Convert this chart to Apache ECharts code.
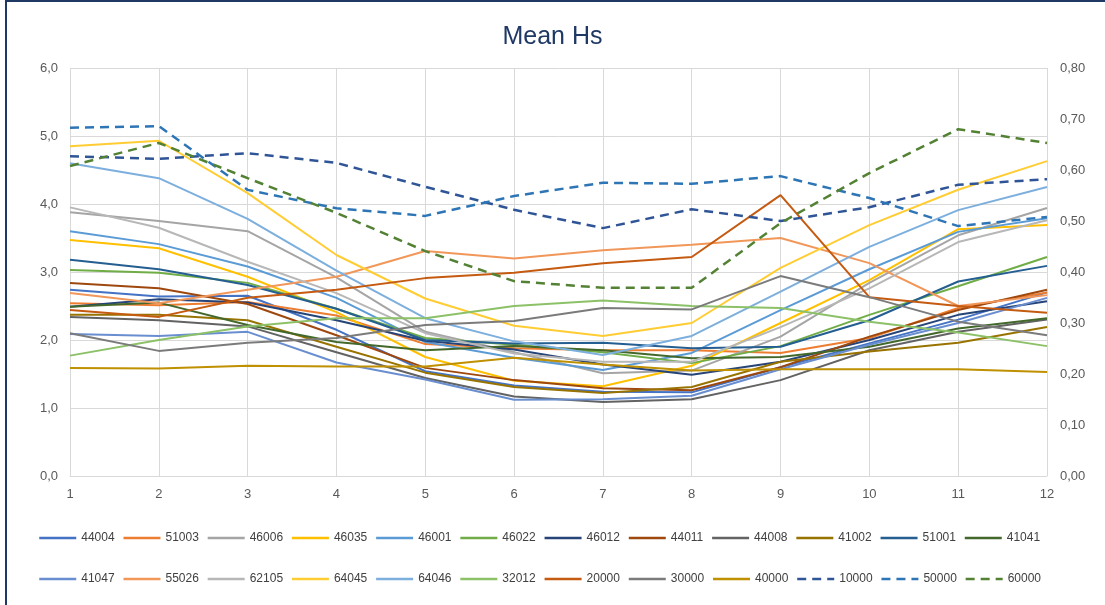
<!DOCTYPE html>
<html>
<head>
<meta charset="utf-8">
<title>Mean Hs</title>
<script src="https://cdn.jsdelivr.net/npm/echarts@6/dist/echarts.min.js"></script>
<style>
  html, body { margin: 0; padding: 0; background: #ffffff; }
  #chart { width: 1105px; height: 605px; }
</style>
</head>
<body>
<div id="chart"></div>
<script>
// Months on the category axis
const months = ['1', '2', '3', '4', '5', '6', '7', '8', '9', '10', '11', '12'];

// Monthly mean Hs per buoy (left axis, m)
const hs44004 = [2.74, 2.64, 2.65, 2.15, 1.54, 1.33, 1.24, 1.23, 1.60, 1.95, 2.30, 2.70];
const hs51003 = [2.54, 2.51, 2.56, 2.36, 1.94, 1.88, 1.85, 1.85, 1.81, 2.03, 2.47, 2.70];
const hs46006 = [3.88, 3.75, 3.60, 2.92, 2.12, 1.82, 1.51, 1.55, 2.05, 2.84, 3.54, 3.94];
const hs46035 = [3.47, 3.35, 2.93, 2.41, 1.75, 1.40, 1.32, 1.62, 2.25, 2.88, 3.63, 3.69];
const hs46001 = [3.60, 3.41, 3.08, 2.62, 1.97, 1.74, 1.56, 1.81, 2.44, 3.04, 3.59, 3.79];
const hs46022 = [3.03, 2.99, 2.84, 2.46, 2.03, 1.93, 1.82, 1.66, 1.91, 2.37, 2.79, 3.22];
const hs46012 = [2.49, 2.60, 2.55, 2.29, 1.99, 1.86, 1.64, 1.49, 1.68, 2.00, 2.37, 2.57];
const hs44011 = [2.84, 2.76, 2.53, 2.07, 1.59, 1.41, 1.29, 1.26, 1.60, 2.05, 2.44, 2.74];
const hs44008 = [2.34, 2.29, 2.20, 1.82, 1.44, 1.17, 1.09, 1.13, 1.41, 1.85, 2.12, 2.30];
const hs41002 = [2.37, 2.37, 2.29, 1.90, 1.52, 1.31, 1.22, 1.31, 1.68, 1.83, 1.96, 2.19];
const hs51001 = [3.18, 3.04, 2.81, 2.46, 2.00, 1.95, 1.96, 1.88, 1.90, 2.29, 2.86, 3.09];
const hs41041 = [2.49, 2.55, 2.22, 1.97, 1.85, 1.91, 1.85, 1.73, 1.75, 1.90, 2.17, 2.32];
const hs41047 = [2.09, 2.06, 2.12, 1.67, 1.42, 1.12, 1.13, 1.18, 1.57, 1.93, 2.25, 2.62];
const hs55026 = [2.69, 2.54, 2.74, 2.93, 3.31, 3.20, 3.32, 3.40, 3.50, 3.13, 2.50, 2.66];
const hs62105 = [3.95, 3.65, 3.15, 2.69, 2.10, 1.80, 1.68, 1.68, 2.19, 2.76, 3.44, 3.76];
const hs64045 = [4.85, 4.93, 4.16, 3.25, 2.61, 2.21, 2.06, 2.25, 3.06, 3.69, 4.21, 4.63];
const hs64046 = [4.60, 4.38, 3.78, 3.02, 2.32, 1.98, 1.78, 2.06, 2.71, 3.37, 3.91, 4.25];
const hs32012 = [1.77, 2.00, 2.20, 2.32, 2.32, 2.50, 2.58, 2.50, 2.47, 2.27, 2.11, 1.91];
const hs20000 = [2.44, 2.34, 2.62, 2.74, 2.91, 2.99, 3.13, 3.22, 4.13, 2.63, 2.50, 2.40];
const hs30000 = [2.10, 1.84, 1.96, 2.03, 2.22, 2.28, 2.47, 2.45, 2.94, 2.63, 2.27, 2.07];
const hs40000 = [1.59, 1.58, 1.62, 1.61, 1.61, 1.74, 1.64, 1.55, 1.57, 1.57, 1.57, 1.53];

// Regional series on the secondary axis
const hs10000 = [0.627, 0.622, 0.633, 0.614, 0.567, 0.522, 0.486, 0.523, 0.500, 0.527, 0.571, 0.582];
const hs50000 = [0.683, 0.686, 0.561, 0.525, 0.510, 0.549, 0.575, 0.573, 0.588, 0.545, 0.490, 0.508];
const hs60000 = [0.608, 0.653, 0.584, 0.516, 0.441, 0.382, 0.369, 0.369, 0.496, 0.594, 0.680, 0.653];

// Legend rows
const legendRow1 = ['44004', '51003', '46006', '46035', '46001', '46022', '46012', '44011', '44008', '41002', '51001', '41041'];
const legendRow2 = ['41047', '55026', '62105', '64045', '64046', '32012', '20000', '30000', '40000', '10000', '50000', '60000'];

const seriesData = {
  '44004': hs44004, '51003': hs51003, '46006': hs46006, '46035': hs46035,
  '46001': hs46001, '46022': hs46022, '46012': hs46012, '44011': hs44011,
  '44008': hs44008, '41002': hs41002, '51001': hs51001, '41041': hs41041,
  '41047': hs41047, '55026': hs55026, '62105': hs62105, '64045': hs64045,
  '64046': hs64046, '32012': hs32012, '20000': hs20000, '30000': hs30000,
  '40000': hs40000, '10000': hs10000, '50000': hs50000, '60000': hs60000
};

const colors = {
  '44004': '#4472C4', '51003': '#ED7D31', '46006': '#A5A5A5', '46035': '#FFC000',
  '46001': '#5B9BD5', '46022': '#70AD47', '46012': '#264478', '44011': '#9E480E',
  '44008': '#636363', '41002': '#997300', '51001': '#255E91', '41041': '#43682B',
  '41047': '#698ED0', '55026': '#F1975A', '62105': '#B7B7B7', '64045': '#FFCD33',
  '64046': '#7CAFDD', '32012': '#8CC168', '20000': '#C55A11', '30000': '#7B7B7B',
  '40000': '#BF9000', '10000': '#2F5597', '50000': '#2E75B6', '60000': '#548235'
};

const dashed = ['10000', '50000', '60000'];
const FONT = '"Liberation Sans", Arial, sans-serif';

const series = legendRow1.concat(legendRow2).map(function (name) {
  const isDashed = dashed.indexOf(name) >= 0;
  return {
    name: name,
    type: 'line',
    data: seriesData[name],
    yAxisIndex: isDashed ? 1 : 0,
    symbol: 'none',
    showSymbol: false,
    smooth: false,
    animation: false,
    itemStyle: { color: colors[name] },
    lineStyle: {
      color: colors[name],
      width: isDashed ? 2.5 : 2,
      type: isDashed ? [9, 6] : 'solid',
      cap: 'butt'
    }
  };
});

// One legend component per row; only the line sample is shown
function legendRow(names, top) {
  return {
    data: names,
    left: 33,
    top: top,
    orient: 'horizontal',
    itemWidth: 37,
    itemHeight: 10,
    itemGap: 7.6,
    itemStyle: { opacity: 0 },
    lineStyle: { width: 2.5 },
    textStyle: { fontFamily: FONT, fontSize: 12, color: '#404040' },
    selectedMode: false
  };
}

const chart = echarts.init(document.getElementById('chart'), null, { renderer: 'canvas' });
chart.setOption({
  backgroundColor: '#ffffff',
  animation: false,
  title: {
    text: 'Mean Hs',
    left: 'center',
    top: 20,
    textStyle: { fontFamily: FONT, fontSize: 25, fontWeight: 'normal', color: '#1F3864' }
  },
  graphic: [{
    type: 'rect',
    shape: { x: 6, y: 1, width: 1130, height: 640 },
    style: { fill: 'none', stroke: '#203864', lineWidth: 2 },
    silent: true
  }],
  legend: [legendRow(legendRow1, 527), legendRow(legendRow2, 568)],
  grid: { left: 70, right: 58, top: 68, bottom: 129, containLabel: false },
  xAxis: {
    type: 'category',
    data: months,
    boundaryGap: false,
    axisLine: { show: true, lineStyle: { color: '#D9D9D9', width: 1 } },
    axisTick: { show: false },
    axisLabel: { fontFamily: FONT, fontSize: 13, color: '#595959', margin: 12 },
    splitLine: { show: true, interval: 0, lineStyle: { color: '#D9D9D9', width: 1 } }
  },
  yAxis: [{
    type: 'value',
    min: 0, max: 6, interval: 1,
    axisLine: { show: false },
    axisTick: { show: false },
    axisLabel: {
      fontFamily: FONT, fontSize: 13, color: '#595959', margin: 12,
      formatter: function (v) { return v.toFixed(1).replace('.', ','); }
    },
    splitLine: { show: true, lineStyle: { color: '#D9D9D9', width: 1 } }
  }, {
    type: 'value',
    min: 0, max: 0.8, interval: 0.1,
    position: 'right',
    axisLine: { show: false },
    axisTick: { show: false },
    axisLabel: {
      fontFamily: FONT, fontSize: 13, color: '#595959', margin: 13,
      formatter: function (v) { return v.toFixed(2).replace('.', ','); }
    },
    splitLine: { show: false }
  }],
  series: series
});
</script>
</body>
</html>
